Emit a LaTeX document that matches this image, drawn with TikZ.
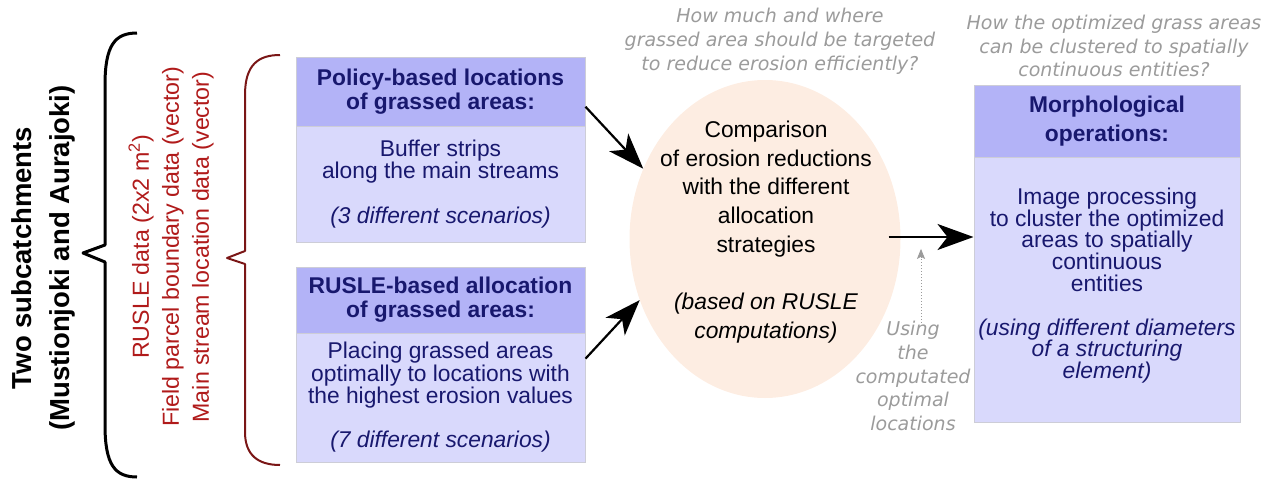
\documentclass[tikz,border=0pt]{standalone}
\usepackage{fontspec}
\setmainfont{Liberation Sans}
\newfontfamily\qfont{DejaVu Sans}
\usetikzlibrary{arrows.meta,shapes.geometric,calc}

\definecolor{hdrfill}{RGB}{179,179,247}
\definecolor{bodfill}{RGB}{217,217,252}
\definecolor{boxline}{RGB}{205,205,215}
\definecolor{navy}{RGB}{24,24,110}
\definecolor{peach}{RGB}{253,237,226}
\definecolor{datared}{RGB}{176,26,26}
\definecolor{bracered}{RGB}{122,22,22}
\definecolor{qgray}{RGB}{155,155,155}

\tikzset{
  hdr/.style={draw=boxline, line width=1pt, fill=hdrfill, text=navy,
    align=center, inner sep=0pt,
    font=\bfseries\fontsize{22.8}{24}\selectfont},
  bod/.style={draw=boxline, line width=1pt, fill=bodfill, text=navy,
    align=center, inner sep=0pt,
    font=\fontsize{22.8}{22.5}\selectfont},
  question/.style={text=qgray, align=center, inner sep=0pt,
    font=\qfont\itshape\fontsize{19}{23.8}\selectfont},
  arr/.style={-{Stealth[length=36pt,width=26pt,inset=10pt]}, line width=2.2pt},
  dotarr/.style={-{Stealth[length=10pt,width=8pt,inset=2pt]}, qgray,
    line width=1pt, dotted},
}

\begin{document}
\begin{tikzpicture}[x=1pt,y=-1pt]
\useasboundingbox (0,0) rectangle (1270,485);

% study area and input data
\node[rotate=90, align=center, inner sep=0pt,
      font=\bfseries\fontsize{27.5}{38}\selectfont] (area) at (43,258)
  {Two subcatchments\\(Mustionjoki and Aurajoki)};
\draw[line width=3pt, line join=round]
  (137,33) .. controls (115,33) and (105,45) .. (105,85)
  -- (105,245) -- (83,253) -- (105,262)
  -- (105,425) .. controls (105,465) and (115,477) .. (137,477);

\node[rotate=90, align=center, inner sep=0pt, text=datared,
      font=\fontsize{23.2}{30}\selectfont] (data) at (171,247)
  {RUSLE data (2x2 m\textsuperscript{2})\\
   Field parcel boundary data (vector)\\
   Main stream location data (vector)};
\draw[bracered, line width=2pt, line join=round]
  (280,55) .. controls (258,55) and (245,65) .. (245,95)
  -- (245,251) -- (227,258) -- (245,264)
  -- (245,432) .. controls (245,455) and (258,465) .. (280,465);

% allocation strategies
\node[hdr, minimum width=289, minimum height=69] (pol-h) at (440.5,91.5)
  {Policy-based locations\\of grassed areas:};
\node[bod, minimum width=289, minimum height=116] (pol-b) at (440.5,184)
  {Buffer strips\\along the main streams\\[22pt]\itshape (3 different scenarios)};

\node[hdr, minimum width=289, minimum height=66] (rus-h) at (440.5,300)
  {RUSLE-based allocation\\of grassed areas:};
\node[bod, minimum width=289, minimum height=129] (rus-b) at (440.5,397.5)
  {Placing grassed areas\\optimally to locations with\\the highest erosion values\\[21.5pt]\itshape (7 different scenarios)};

% comparison
\node[ellipse, fill=peach, minimum width=271, minimum height=318, inner sep=0pt]
  (cmp) at (765,239) {};
\node[align=center, inner sep=0pt, font=\fontsize{22.8}{28.7}\selectfont]
  (cmp-t) at (766,232)
  {Comparison\\of erosion reductions\\with the different\\allocation\\strategies\\[28.7pt]\itshape (based on RUSLE\\\itshape computations)};

% morphological operations
\node[hdr, minimum width=266, minimum height=72, font=\bfseries\fontsize{22.8}{29}\selectfont]
  (mor-h) at (1107,121) {Morphological\\operations:};
\node[bod, minimum width=266, minimum height=265, font=\fontsize{22.8}{21.8}\selectfont]
  (mor-b) at (1107,289.5) {};
\node[align=center, inner sep=0pt, text=navy, font=\fontsize{22.8}{21.8}\selectfont]
  (mor-t) at (1107,285.5)
  {Image processing\\to cluster the optimized\\areas to spatially\\continuous\\entities\\[21.8pt]\itshape (using different diameters\\\itshape of a structuring\\\itshape element)};

% research questions
\node[question] (q1) at (780,41)
  {How much and where\\grassed area should be targeted\\to reduce erosion efficiently?};
\node[question] (q2) at (1114,46)
  {How the optimized grass areas\\can be clustered to spatially\\continuous entities?};
\node[question] (use) at (913,376)
  {Using\\the\\computated\\optimal\\locations};

% connectors
\draw[arr] (pol-h.-6) -- (cmp.150);
\draw[arr] (rus-b.15) -- (cmp.206);
\draw[arr] ([xshift=-12pt,yshift=2pt]cmp.east) -- ([yshift=2pt]cmp.east -| mor-b.west);
\draw[dotarr] ([xshift=8pt,yshift=-2pt]use.north) -- ++(0pt,74pt);
\end{tikzpicture}
\end{document}
